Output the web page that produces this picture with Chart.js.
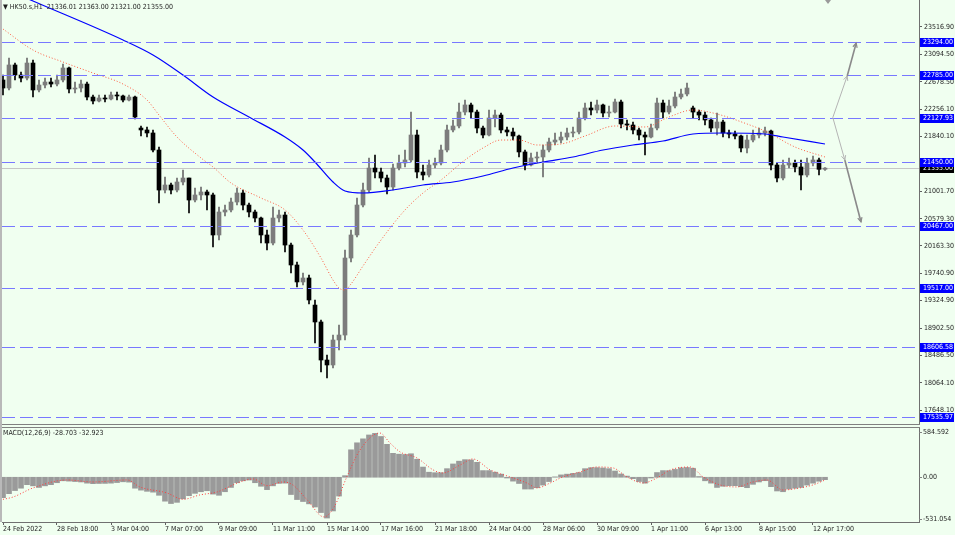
<!DOCTYPE html>
<html>
<head>
<meta charset="utf-8">
<title>HK50.s,H1</title>
<script src="https://cdn.jsdelivr.net/npm/chart.js@4.4.1/dist/chart.umd.min.js"></script>
<style>
  html, body { margin: 0; padding: 0; background: #f0fff0; }
  #frame { position: relative; width: 955px; height: 535px; background: #f0fff0; overflow: hidden; }
  #edge { position: absolute; left: 0; top: 0; width: 2px; height: 522px; background: #b9b9b9; }
  #priceBox { position: absolute; left: 0; top: 0; width: 955px; height: 425px; }
  #macdBox { position: absolute; left: 0; top: 427px; width: 955px; height: 108px; }
  .caption { position: absolute; font: 7px 'Liberation Sans Narrow', 'DejaVu Sans Condensed', 'Liberation Sans', sans-serif; color: #1e1e1e; white-space: pre; }
</style>
</head>
<body>
<div id="frame">
  <div id="priceBox"><canvas id="price"></canvas></div>
  <div id="macdBox"><canvas id="macd"></canvas></div>
  <div id="edge"></div>
  <div class="caption" style="left:3px;top:3px;">▼ HK50.s,H1  21336.01 21363.00 21321.00 21355.00</div>
  <div class="caption" style="left:3px;top:429px;">MACD(12,26,9) -28.703 -32.923</div>
</div>
<script>
// --- data (H1 candles, two hours per slot) ---
const opens = [22705,22582,22935,22781,22735,22965,22552,22628,22674,22643,
  22705,22889,22567,22582,22643,22444,22383,22429,22414,22475,
  22460,22398,22444,21969,21939,21893,21632,21019,21096,21019,
  21142,21203,20866,20943,20989,20943,20330,20682,20713,20835,
  20973,20789,20682,20590,20330,20207,20590,20636,20176,19870,
  19610,19671,19256,18997,18414,18338,18721,18797,19977,20330,
  20789,21019,21356,21295,21203,21065,21356,21433,21479,21862,
  21295,21249,21402,21433,21632,21939,22000,22214,22322,22214,
  21969,21862,22123,22168,21939,21908,21847,21602,21402,21510,
  21525,21632,21755,21785,21831,21893,21908,22123,22276,22245,
  22322,22199,22214,22368,22031,22015,21939,21862,21831,21969,
  22352,22214,22306,22444,22490,22276,22214,22168,22092,21969,
  22061,21893,21877,21847,21663,21785,21862,21893,21923,21402,
  21203,21402,21433,21372,21249,21433,21479,21336.01];
const highs = [22781,23042,22965,22827,23042,23011,22705,22735,22735,22781,
  22950,22904,22674,22705,22674,22475,22475,22475,22521,22521,
  22475,22475,22460,22000,21985,21939,21678,21218,21127,21203,
  21326,21203,21050,21065,21019,20973,20759,20789,20897,21050,
  21019,20820,20713,20606,20406,20759,20713,20682,20207,19916,
  19747,19717,19334,19027,18491,18797,18951,20100,20406,20897,
  21127,21510,21556,21356,21249,21418,21556,21632,22214,21939,
  21402,21479,21510,21709,22015,22092,22352,22398,22352,22245,
  22000,22245,22245,22199,21985,21969,21862,21632,21586,21602,
  21709,21816,21893,21908,21969,21985,22214,22352,22368,22398,
  22337,22306,22414,22398,22092,22061,21969,21908,22031,22429,
  22398,22398,22521,22567,22659,22306,22245,22214,22123,22199,
  22092,21939,21923,21862,21862,21939,21969,21985,21939,21433,
  21479,21510,21479,21479,21510,21540,21510,21363];
const lows = [22475,22552,22705,22674,22705,22444,22521,22582,22597,22613,
  22674,22506,22506,22521,22398,22337,22368,22368,22398,22398,
  22368,22383,22107,21847,21831,21602,20820,20973,20958,20989,
  21096,20667,20835,20866,20713,20146,20253,20621,20682,20789,
  20713,20606,20529,20207,20100,20176,20529,20069,19747,19533,
  19564,19272,18675,18230,18139,18292,18568,18721,19916,20299,
  20759,20989,21203,21142,20958,21019,21326,21372,21448,21203,
  21172,21218,21356,21402,21602,21908,21969,22168,22123,21893,
  21816,21847,21985,21893,21847,21785,21525,21326,21387,21433,
  21218,21602,21709,21739,21785,21831,21877,22092,22168,22199,
  22138,22138,22199,21969,21939,21877,21785,21556,21816,21939,
  22123,22184,22276,22414,22460,22123,22092,22015,21908,21862,
  21831,21816,21801,21602,21586,21755,21816,21847,21326,21142,
  21172,21356,21295,21019,21218,21387,21249,21321];
const closes = [22582,22935,22781,22735,22965,22552,22628,22674,22643,22705,
  22889,22567,22582,22643,22444,22383,22429,22414,22475,22460,
  22398,22444,22138,21939,21893,21632,21019,21096,21019,21142,
  21203,20866,20943,20989,20943,20330,20682,20713,20835,20973,
  20789,20682,20590,20330,20207,20590,20636,20176,19870,19610,
  19671,19334,18997,18414,18338,18721,18797,19977,20330,20789,
  21019,21356,21295,21203,21065,21356,21433,21479,21862,21295,
  21249,21402,21433,21632,21939,22000,22214,22322,22214,21969,
  21862,22123,22168,21939,21908,21847,21602,21402,21510,21525,
  21632,21755,21785,21831,21893,21908,22123,22276,22245,22322,
  22199,22214,22368,22031,22015,21939,21862,21831,21969,22352,
  22214,22306,22444,22490,22582,22214,22168,22092,21969,22061,
  21893,21877,21847,21663,21785,21862,21893,21923,21402,21203,
  21402,21433,21372,21249,21433,21479,21336.01,21355];

// moving averages: [slot, price]
const maSlow = [[0,24114],[5,23915],[20,23318],[25,23088],[30,22781],[35,22444],[41,22138],
  [47,21831],[50,21632],[52,21448],[55,21142],[57,21004],[60,20973],[65,21019],[70,21096],
  [75,21142],[80,21234],[85,21356],[90,21448],[95,21525],[100,21632],[105,21709],[110,21770],
  [115,21877],[120,21893],[127,21877],[130,21831],[137,21724]];
const maFast = [[0,23486],[5,23164],[10,22980],[15,22812],[20,22643],[24,22398],[26,22168],
  [29,21831],[33,21510],[35,21372],[38,21127],[43,20897],[47,20713],[50,20406],[53,19977],
  [55,19640],[56,19518],[57,19487],[58,19579],[60,19855],[63,20253],[67,20713],[70,20973],
  [73,21172],[77,21479],[80,21663],[83,21785],[86,21785],[89,21709],[93,21724],[97,21847],
  [102,22000],[107,21985],[111,22138],[115,22245],[119,22184],[124,22031],[127,21923],
  [132,21678],[137,21525]];

// MACD(12,26,9) main values per slot and signal line [slot, value]
const macdMain = [-242,-195,-158,-130,-88,-102,-121,-102,-88,-65,
  -42,-46,-51,-56,-70,-76,-74,-73,-70,-63,
  -54,-58,-130,-153,-167,-177,-214,-284,-312,-298,
  -256,-219,-191,-172,-160,-200,-214,-172,-121,-65,
  -42,-33,-65,-107,-147,-102,-73,-70,-205,-265,
  -288,-316,-353,-419,-484,-400,-223,19,326,409,
  456,502,521,484,391,284,274,270,279,214,
  121,60,54,54,102,158,191,209,206,177,
  79,79,60,37,-9,-46,-74,-140,-140,-124,
  -93,-51,5,28,37,46,56,102,114,114,
  110,102,74,39,14,-17,-51,-70,-9,56,
  79,79,93,112,116,107,9,-42,-70,-121,
  -107,-100,-100,-112,-124,-84,-56,-41,-112,-163,
  -172,-140,-130,-121,-93,-70,-47,-28.703];
const macdSignal = [[-0.5,-269],[1.7,-234],[5,-127],[10.7,-32],[15,-56],[20.7,-32],[22.8,-115],
  [27.3,-186],[30,-262],[32.8,-210],[35.7,-174],[39.5,-56],[41.7,-20],[44,-100],[46.7,-56],
  [48.3,-91],[50.7,-269],[53.5,-471],[55.2,-352],[57.3,4],[59.5,324],[62.8,525],[64.5,407],
  [66.2,300],[69,229],[71.7,87],[73.3,51],[76.2,146],[78.3,217],[81.2,87],[84.5,4],
  [87.3,-68],[89,-127],[91.2,-68],[93.3,4],[96.2,63],[99,122],[101.7,110],[104,4],
  [106.7,-68],[109,-8],[111.2,87],[114.5,122],[116.7,4],[119.5,-91],[122.3,-115],[125,-56],
  [127.3,-32],[130,-151],[132.8,-127],[135,-91],[137,-32.923]];

// axes and drawn objects
const priceTicks = [23516.90,23094.50,22678.50,22256.10,21840.10,21001.70,20579.30,
  20163.30,19740.90,19324.90,18902.50,18486.50,18064.10,17648.10];
const levels = [23294.00,22785.00,22127.93,21450.00,20467.00,19517.00,18606.58,17535.97];
const lastPrice = 21355.00;
const priceMin = 17433.7, priceMax = 23930.6;
const macdMin = -531.054, macdMax = 584.592;
const timeLabels = ['24 Feb 2022','28 Feb 18:00','3 Mar 04:00','7 Mar 07:00','9 Mar 09:00',
  '11 Mar 11:00','15 Mar 14:00','17 Mar 16:00','21 Mar 18:00','24 Mar 04:00','28 Mar 06:00',
  '30 Mar 09:00','1 Apr 11:00','6 Apr 13:00','8 Apr 15:00','12 Apr 17:00'];
const timeTickSlots = [0,9,18,27,36,45,54,63,72,81,90,99,108,117,126,135];
const arrowUp = [[138.3,22130],[140.7,22766],[142.2,23272]];
const arrowDown = [[138.3,22130],[140.3,21479],[143.0,20529]];
const shiftSlot = 137.5;

const FONT = "'Liberation Sans Narrow', 'DejaVu Sans Condensed', 'Liberation Sans', sans-serif";
const AXIS_W = 36;
const X_MIN = -1 / 6, X_MAX = X_MIN + (955 - 2 - AXIS_W) / 6;

Chart.defaults.font.family = FONT;
Chart.defaults.font.size = 7;
Chart.defaults.color = '#1e1e1e';

const slots = closes.map((c, i) => i);
const bull = slots.map(i => closes[i] >= opens[i]);
const bodyCol = bull.map(b => (b ? '#7c7c7c' : '#000000'));
const wickCol = bull.map(b => (b ? '#6a6a6a' : '#000000'));

function fixWidth(scale) {
  scale.width = AXIS_W;
  scale.paddingTop = 0;
  scale.paddingBottom = 0;
}

function arrowHead(ctx, x0, y0, x1, y1) {
  const ang = Math.atan2(y1 - y0, x1 - x0);
  ctx.beginPath();
  ctx.moveTo(x1 - 5 * Math.cos(ang - 0.45), y1 - 5 * Math.sin(ang - 0.45));
  ctx.lineTo(x1, y1);
  ctx.lineTo(x1 - 5 * Math.cos(ang + 0.45), y1 - 5 * Math.sin(ang + 0.45));
  ctx.stroke();
}

const priceOverlay = {
  id: 'priceOverlay',
  beforeDatasetsDraw(chart) {
    const { ctx, chartArea: a, scales: { y } } = chart;
    const yp = Math.round(y.getPixelForValue(lastPrice)) + 0.5;
    ctx.save();
    ctx.strokeStyle = '#c6c6c6';
    ctx.lineWidth = 1;
    ctx.beginPath();
    ctx.moveTo(a.left, yp);
    ctx.lineTo(a.right, yp);
    ctx.stroke();
    ctx.restore();
  },
  afterDatasetsDraw(chart) {
    const { ctx, chartArea: a, scales: { y } } = chart;
    ctx.save();
    ctx.strokeStyle = '#7878ff';
    ctx.lineWidth = 1;
    ctx.setLineDash([13, 5]);
    levels.forEach(v => {
      const yp = Math.round(y.getPixelForValue(v)) + 0.5;
      ctx.beginPath();
      ctx.moveTo(a.left, yp);
      ctx.lineTo(a.right, yp);
      ctx.stroke();
    });
    ctx.restore();
  },
  afterDraw(chart) {
    const { ctx, chartArea: a, scales: { x, y } } = chart;
    ctx.save();
    // panel bottom border
    ctx.strokeStyle = '#808080';
    ctx.lineWidth = 1;
    ctx.beginPath();
    ctx.moveTo(a.left, a.bottom + 0.5);
    ctx.lineTo(a.right + 1, a.bottom + 0.5);
    ctx.stroke();

    // price labels on the axis
    ctx.font = '7px ' + FONT;
    ctx.textBaseline = 'middle';
    ctx.textAlign = 'left';
    const tag = (v, bg) => {
      const yp = Math.round(y.getPixelForValue(v));
      ctx.fillStyle = bg;
      ctx.fillRect(a.right + 1, yp - 4, 34, 9);
      ctx.fillStyle = '#ffffff';
      ctx.fillText(v.toFixed(2), a.right + 4, yp + 0.5);
    };
    tag(lastPrice, '#000000');
    levels.forEach(v => tag(v, '#0000ff'));

    // hand drawn arrows
    [arrowUp, arrowDown].forEach(pts => {
      const p = pts.map(([s, v]) => [x.getPixelForValue(s), y.getPixelForValue(v)]);
      ctx.strokeStyle = '#b4b4b4';
      ctx.lineWidth = 1;
      ctx.beginPath();
      ctx.moveTo(p[0][0], p[0][1]);
      ctx.lineTo(p[1][0], p[1][1]);
      ctx.stroke();
      arrowHead(ctx, p[0][0], p[0][1], p[1][0], p[1][1]);
      ctx.strokeStyle = '#8a8a8a';
      ctx.lineWidth = 1.6;
      ctx.beginPath();
      ctx.moveTo(p[1][0], p[1][1]);
      ctx.lineTo(p[2][0], p[2][1]);
      ctx.stroke();
      ctx.lineWidth = 1.2;
      arrowHead(ctx, p[1][0], p[1][1], p[2][0], p[2][1]);
    });

    // chart shift marker
    const sx = x.getPixelForValue(shiftSlot);
    ctx.fillStyle = '#9a9a9a';
    ctx.beginPath();
    ctx.moveTo(sx - 3, 0);
    ctx.lineTo(sx + 3, 0);
    ctx.lineTo(sx, 4);
    ctx.closePath();
    ctx.fill();
    ctx.restore();
  }
};

const macdOverlay = {
  id: 'macdOverlay',
  afterDraw(chart) {
    const { ctx, chartArea: a, scales: { y } } = chart;
    ctx.save();
    ctx.strokeStyle = '#808080';
    ctx.lineWidth = 1;
    ctx.beginPath();
    ctx.moveTo(a.left, a.top - 0.5);
    ctx.lineTo(a.right + 1, a.top - 0.5);
    ctx.stroke();
    ctx.font = '7px ' + FONT;
    ctx.fillStyle = '#1e1e1e';
    ctx.textAlign = 'left';
    ctx.textBaseline = 'middle';
    const rows = [
      [macdMax.toFixed(3), y.getPixelForValue(macdMax) + 4],
      ['0.00', y.getPixelForValue(0)],
      [macdMin.toFixed(3), y.getPixelForValue(macdMin) - 3]
    ];
    rows.forEach(([t, yp]) => {
      ctx.fillText(t, a.right + 4, yp);
      ctx.beginPath();
      ctx.moveTo(a.right, Math.round(yp) + 0.5);
      ctx.lineTo(a.right + 3, Math.round(yp) + 0.5);
      ctx.stroke();
    });
    ctx.restore();
  }
};

new Chart(document.getElementById('price'), {
  type: 'bar',
  data: {
    datasets: [
      {
        type: 'line',
        data: maSlow.map(([s, v]) => ({ x: s, y: v })),
        borderColor: '#0000ff',
        borderWidth: 1.2,
        pointRadius: 0,
        cubicInterpolationMode: 'monotone',
        order: 1
      },
      {
        type: 'line',
        data: maFast.map(([s, v]) => ({ x: s, y: v })),
        borderColor: '#ff5a40',
        borderWidth: 1,
        borderDash: [1, 2],
        pointRadius: 0,
        cubicInterpolationMode: 'monotone',
        order: 2
      },
      {
        data: slots.map(i => ({ x: i, y: [lows[i], highs[i]] })),
        backgroundColor: wickCol,
        barThickness: 1,
        grouped: false,
        order: 4
      },
      {
        data: slots.map(i => ({ x: i, y: [opens[i], closes[i]] })),
        backgroundColor: bodyCol,
        barThickness: 4,
        minBarLength: 1,
        grouped: false,
        order: 3
      }
    ]
  },
  options: {
    responsive: true,
    maintainAspectRatio: false,
    animation: false,
    events: [],
    layout: { padding: { left: 2, top: 0, right: 0, bottom: 1 } },
    plugins: { legend: { display: false }, tooltip: { enabled: false } },
    scales: {
      x: { type: 'linear', min: X_MIN, max: X_MAX, offset: false, display: false, grid: { offset: false } },
      y: {
        type: 'linear',
        position: 'right',
        min: priceMin,
        max: priceMax,
        afterBuildTicks: s => { s.ticks = priceTicks.map(v => ({ value: v })); },
        afterFit: fixWidth,
        ticks: { callback: v => v.toFixed(2), padding: 2, crossAlign: 'near', color: '#1e1e1e' },
        grid: { drawOnChartArea: false, drawTicks: true, tickLength: 3, color: '#606060' },
        border: { display: true, color: '#707070' }
      }
    }
  },
  plugins: [priceOverlay]
});

new Chart(document.getElementById('macd'), {
  type: 'bar',
  data: {
    datasets: [
      {
        type: 'line',
        data: macdSignal.map(([s, v]) => ({ x: s, y: v })),
        borderColor: '#ff3c3c',
        borderWidth: 1,
        borderDash: [1, 2],
        pointRadius: 0,
        cubicInterpolationMode: 'monotone',
        order: 1
      },
      {
        data: slots.map(i => ({ x: i, y: macdMain[i] })),
        backgroundColor: '#9a9a9a',
        barThickness: 5,
        grouped: false,
        order: 2
      }
    ]
  },
  options: {
    responsive: true,
    maintainAspectRatio: false,
    animation: false,
    events: [],
    layout: { padding: { left: 2, top: 1, right: 0, bottom: 0 } },
    plugins: { legend: { display: false }, tooltip: { enabled: false } },
    scales: {
      x: {
        type: 'linear',
        min: X_MIN,
        max: X_MAX,
        offset: false,
        afterBuildTicks: s => { s.ticks = timeTickSlots.map(v => ({ value: v })); },
        afterFit: s => { s.height = 13; s.paddingLeft = 0; s.paddingRight = 0; },
        ticks: { callback: (v, i) => timeLabels[i], align: 'start', maxRotation: 0, autoSkip: false, padding: 0, color: '#1e1e1e' },
        grid: { drawOnChartArea: false, drawTicks: true, tickLength: 3, color: '#606060', offset: false },
        border: { display: true, color: '#707070' }
      },
      y: {
        type: 'linear',
        position: 'right',
        min: macdMin,
        max: macdMax,
        afterFit: fixWidth,
        ticks: { display: false },
        grid: { display: false },
        border: { display: true, color: '#707070' }
      }
    }
  },
  plugins: [macdOverlay]
});
</script>
</body>
</html>
